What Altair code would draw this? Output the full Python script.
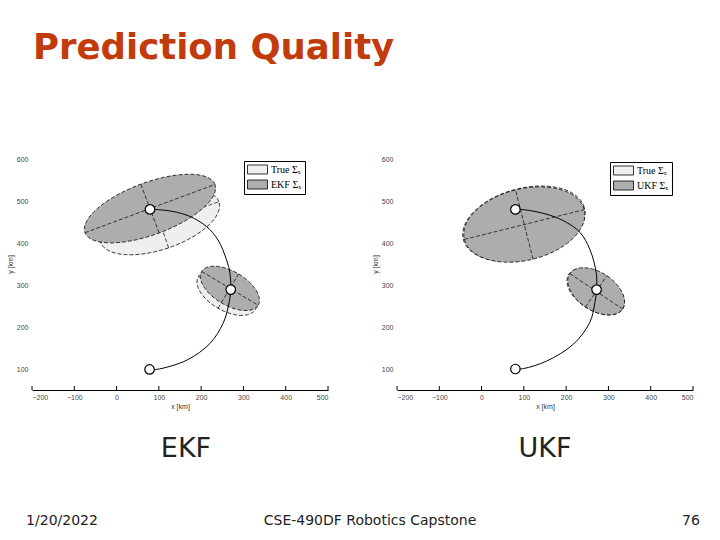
import altair as alt
import numpy as np
import pandas as pd

# ---------------- data ----------------
X_TICKS = [-200, -100, 0, 100, 200, 300, 400, 500]
Y_TICKS = [100, 200, 300, 400, 500, 600]

# trajectories
EKF_TRAJ_X = [78, 95, 166, 221, 252, 264, 270, 268, 260, 240, 213, 174, 134, 103, 79]
EKF_TRAJ_Y = [99, 99, 121, 161, 209, 248, 289, 328, 360, 407, 439, 463, 475, 479, 480]
UKF_TRAJ_X = [80, 99, 154, 217, 256, 268, 272, 271, 256, 233, 201, 162, 122, 91, 80]
UKF_TRAJ_Y = [100, 101, 119, 159, 211, 258, 289, 330, 385, 425, 449, 466, 476, 480, 480]

# position markers
EKF_MARK_X = [78, 270, 79]
EKF_MARK_Y = [99, 289, 480]
UKF_MARK_X = [80, 272, 80]
UKF_MARK_Y = [100, 289, 480]

# covariance ellipses: kind, centre, semi-axes, orientation (deg)
EKF_ELL_KIND = ["True", "Filter", "True", "Filter"]
EKF_ELL_CX = [102, 79, 261, 268]
EKF_ELL_CY = [450, 482, 281, 292]
EKF_ELL_A = [148, 164, 78, 78]
EKF_ELL_B = [65, 62, 42, 40]
EKF_ELL_ANG = [19, 20.5, -30, -31]

UKF_ELL_KIND = ["True", "Filter", "True", "Filter"]
UKF_ELL_CX = [100, 101, 270, 271]
UKF_ELL_CY = [446, 444, 284, 285]
UKF_ELL_A = [148, 146, 76, 75]
UKF_ELL_B = [84, 85, 44, 45]
UKF_ELL_ANG = [15, 14, -33, -34]

EKF_LEGEND = ["True \u03a3\u2093", "EKF \u03a3\u2093"]
UKF_LEGEND = ["True \u03a3\u2093", "UKF \u03a3\u2093"]
FILL_COLORS = ["#efefef", "#adadad"]

# ---------------- helpers ----------------
PW, PH = 296, 252
XS = alt.Scale(domain=[-200, 500], nice=False, zero=False)
YS = alt.Scale(domain=[50, 650], nice=False, zero=False)
LBL_FONT = "Liberation Sans"
XAXIS = alt.Axis(values=X_TICKS, title="x [km]", ticks=False, grid=False,
                 domainColor="black", domainWidth=1.2,
                 labelFont=LBL_FONT, labelFontSize=7, labelColor="#444",
                 labelPadding=3, titleFont=LBL_FONT, titleFontSize=7,
                 titleFontWeight="normal", titleColor="#333", titlePadding=2)
YAXIS = alt.Axis(values=Y_TICKS, title="y [km]", ticks=False, grid=False,
                 domain=False, labelFont=LBL_FONT, labelFontSize=7,
                 labelColor="#444", labelPadding=4, titleFont=LBL_FONT,
                 titleFontSize=7, titleFontWeight="normal", titleColor="#333",
                 titlePadding=3)


def xenc(f):
    return alt.X(f"{f}:Q", scale=XS, axis=XAXIS)


def yenc(f):
    return alt.Y(f"{f}:Q", scale=YS, axis=YAXIS)


def ellipse_band(cx, cy, a, b, ang, kind):
    phi = np.radians(ang)
    c, s = np.cos(phi), np.sin(phi)
    A = c * c / a ** 2 + s * s / b ** 2
    B = 2 * c * s * (1 / a ** 2 - 1 / b ** 2)
    C = s * s / a ** 2 + c * c / b ** 2
    w = np.sqrt(a * a * c * c + b * b * s * s)
    dx = w * np.cos(np.linspace(np.pi, 0, 121))
    disc = np.clip(B * B * dx * dx - 4 * C * (A * dx * dx - 1), 0, None)
    r = np.sqrt(disc)
    return pd.DataFrame({"x": cx + dx,
                         "hi": cy + (-B * dx + r) / (2 * C),
                         "lo": cy + (-B * dx - r) / (2 * C),
                         "kind": kind})


def ellipse_outline(cx, cy, a, b, ang):
    phi = np.radians(ang)
    t = np.linspace(0, 2 * np.pi, 145)
    x = cx + a * np.cos(t) * np.cos(phi) - b * np.sin(t) * np.sin(phi)
    y = cy + a * np.cos(t) * np.sin(phi) + b * np.sin(t) * np.cos(phi)
    return pd.DataFrame({"x": x, "y": y, "i": np.arange(len(t))})


def ellipse_axes(cx, cy, a, b, ang):
    phi = np.radians(ang)
    c, s = np.cos(phi), np.sin(phi)
    return pd.DataFrame({
        "x1": [cx - a * c, cx + b * s], "y1": [cy - a * s, cy - b * c],
        "x2": [cx + a * c, cx - b * s], "y2": [cy + a * s, cy + b * c]})


def txt(text, x, y, size, align="center", weight="normal", color="#222",
        font="DejaVu Sans"):
    return alt.Chart(alt.Data(values=[{}])).mark_text(
        text=text, align=align, baseline="alphabetic", fontSize=size,
        fontWeight=weight, color=color, font=font).encode(
        x=alt.value(x), y=alt.value(y))


def panel(traj_x, traj_y, mk_x, mk_y, kinds, cxs, cys, aa, bb, angs,
          labels, lx, ly):
    fill_scale = alt.Scale(domain=labels, range=FILL_COLORS)
    legend = alt.Legend(title=None, orient="none", legendX=lx, legendY=ly,
                        strokeColor="black", padding=3, rowPadding=2,
                        symbolType="M-1,-0.9H3V0.9H-1Z", symbolSize=100,
                        symbolStrokeColor="black", symbolStrokeWidth=0.8,
                        symbolOpacity=1, labelOffset=13,
                        labelFont="Liberation Serif", labelFontSize=10,
                        labelColor="black")
    kmap = {"True": labels[0], "Filter": labels[1]}
    layers = []
    for k, cx, cy, a, b, ang in zip(kinds, cxs, cys, aa, bb, angs):
        band = ellipse_band(cx, cy, a, b, ang, kmap[k])
        layers.append(alt.Chart(band).mark_area(opacity=1).encode(
            x=xenc("x"), y=yenc("hi"), y2="lo:Q",
            fill=alt.Fill("kind:N", scale=fill_scale, legend=legend)))
        layers.append(alt.Chart(ellipse_outline(cx, cy, a, b, ang)).mark_line(
            color="black", strokeWidth=0.8, strokeDash=[4, 2]).encode(
            x=xenc("x"), y=yenc("y"), order="i:Q"))
        layers.append(alt.Chart(ellipse_axes(cx, cy, a, b, ang)).mark_rule(
            color="black", strokeWidth=0.7, strokeDash=[4, 2]).encode(
            x=xenc("x1"), y=yenc("y1"), x2="x2:Q", y2="y2:Q"))
    traj = pd.DataFrame({"x": traj_x, "y": traj_y, "i": range(len(traj_x))})
    layers.append(alt.Chart(traj).mark_line(
        color="black", strokeWidth=1, interpolate="catmull-rom").encode(
        x=xenc("x"), y=yenc("y"), order="i:Q"))
    marks = pd.DataFrame({"x": mk_x, "y": mk_y})
    layers.append(alt.Chart(marks).mark_point(
        shape="circle", filled=True, fill="white", stroke="black",
        strokeWidth=1.2, size=90, opacity=1).encode(x=xenc("x"), y=yenc("y")))
    ticks = pd.DataFrame({"t": X_TICKS})
    layers.append(alt.Chart(ticks).mark_rule(color="black", strokeWidth=1).encode(
        x=xenc("t"), y=alt.value(PH), y2=alt.value(PH - 4)))
    return layers


left_layers = panel(EKF_TRAJ_X, EKF_TRAJ_Y, EKF_MARK_X, EKF_MARK_Y,
                    EKF_ELL_KIND, EKF_ELL_CX, EKF_ELL_CY, EKF_ELL_A, EKF_ELL_B,
                    EKF_ELL_ANG, EKF_LEGEND, 212, 23)
left_layers += [
    txt("Prediction Quality", 1, -79, 35.5, align="left", weight="bold",
        color="#C23B0C"),
    txt("EKF", 154, 319, 27),
    txt("1/20/2022", 30, 387, 14),
    txt("CSE-490DF Robotics Capstone", 338, 387, 14),
    txt("76", 659, 387, 14),
    alt.Chart(alt.Data(values=[{}])).mark_rule(opacity=0).encode(
        x=alt.value(-32), x2=alt.value(688), y=alt.value(-138),
        y2=alt.value(402)),
]
left = alt.layer(*left_layers).properties(width=PW, height=PH)

right_layers = panel(UKF_TRAJ_X, UKF_TRAJ_Y, UKF_MARK_X, UKF_MARK_Y,
                     UKF_ELL_KIND, UKF_ELL_CX, UKF_ELL_CY, UKF_ELL_A,
                     UKF_ELL_B, UKF_ELL_ANG, UKF_LEGEND, 213, 24)
right_layers += [txt("UKF", 148, 319, 27)]
right = alt.layer(*right_layers).properties(width=PW, height=PH)

chart = alt.hconcat(left, right, spacing=69, bounds="flush").resolve_scale(
    fill="independent").resolve_legend(fill="independent").properties(
    padding=0, background="white").configure_view(stroke=None)

chart.save("out.html", embed_options={"renderer": "svg", "actions": False})
